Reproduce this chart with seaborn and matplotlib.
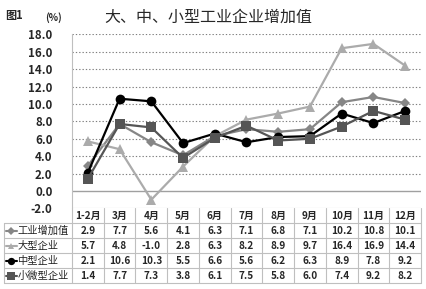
import matplotlib
matplotlib.use("Agg")
import matplotlib.pyplot as plt
import seaborn as sns
import pandas as pd
from matplotlib.lines import Line2D

months = ["1-2月", "3月", "4月", "5月", "6月", "7月", "8月", "9月", "10月", "11月", "12月"]
industry = [2.9, 7.7, 5.6, 4.1, 6.3, 7.1, 6.8, 7.1, 10.2, 10.8, 10.1]
large = [5.7, 4.8, -1.0, 2.8, 6.3, 8.2, 8.9, 9.7, 16.4, 16.9, 14.4]
medium = [2.1, 10.6, 10.3, 5.5, 6.6, 5.6, 6.2, 6.3, 8.9, 7.8, 9.2]
small = [1.4, 7.7, 7.3, 3.8, 6.1, 7.5, 5.8, 6.0, 7.4, 9.2, 8.2]
series_names = ["工业增加值", "大型企业", "中型企业", "小微型企业"]
yticks = [-2.0, 0.0, 2.0, 4.0, 6.0, 8.0, 10.0, 12.0, 14.0, 16.0, 18.0]

sns.set_theme(style="white")
plt.rcParams['font.family'] = ['Noto Sans CJK SC', 'DejaVu Sans']

colors = {"工业增加值": "#868686", "大型企业": "#ABABAB", "中型企业": "#000000", "小微型企业": "#555555"}
markers = {"工业增加值": "D", "大型企业": "^", "中型企业": "o", "小微型企业": "s"}
msizes = {"工业增加值": 5, "大型企业": 6.5, "中型企业": 7, "小微型企业": 7}

rows = []
for name, vals in zip(series_names, [industry, large, medium, small]):
    for i, v in enumerate(vals):
        rows.append({"pos": i, "value": v, "series": name})
df = pd.DataFrame(rows)

W, H = 427, 289
fig = plt.figure(figsize=(W / 100, H / 100), dpi=100)
x0, x1 = 72, 421
ytop, ybot = 34.3, 208.4
ax = fig.add_axes([x0 / W, 1 - ybot / H, (x1 - x0) / W, (ybot - ytop) / H])

for name in series_names:
    sub = df[df.series == name]
    sns.lineplot(data=sub, x="pos", y="value", ax=ax, color=colors[name],
                 marker=markers[name], markersize=msizes[name], markeredgewidth=0,
                 linewidth=1.6, legend=False)

ax.set_xlim(-0.5, 10.5)
ax.set_ylim(-2, 18)
ax.set_yticks(yticks)
ax.set_yticklabels([f"{t:.1f}" for t in yticks], fontsize=8.3, fontweight="bold")
ax.set_xticks([])
ax.set_xlabel("")
ax.set_ylabel("")
ax.tick_params(axis="y", length=0, pad=14)
for t in yticks[2:]:
    ax.axhline(t, color="#7f7f7f", lw=0.8, ls=(0, (1.2, 1.8)), zorder=0)
ax.axhline(0, color="#a0a0a0", lw=1.0, zorder=0)
ax.axhline(-2, color="#c8c8c8", lw=0.8, zorder=0)
for s in ["top", "right", "bottom"]:
    ax.spines[s].set_visible(False)
ax.spines["left"].set_color("#bfbfbf")
ax.spines["left"].set_linewidth(0.8)

# data table
trow0, rh = 208.4, 15.0
tax = fig.add_axes([x0 / W, 1 - (trow0 + 5 * rh) / H, (x1 - x0) / W, 5 * rh / H])
tax.set_xlim(-0.5, 10.5)
tax.set_ylim(5, 0)
tax.axis("off")
gc = "#bfbfbf"
for i in range(12):
    tax.plot([i - 0.5, i - 0.5], [0, 5], color=gc, lw=0.8, clip_on=False)
for r in range(1, 6):
    tax.plot([-0.5, 10.5], [r, r], color=gc, lw=0.8, clip_on=False)
for i, m in enumerate(months):
    tax.text(i, 0.5, m, ha="center", va="center", fontsize=7.2, fontweight="bold")
for r, vals in enumerate([industry, large, medium, small], start=1):
    for i, v in enumerate(vals):
        tax.text(i, r + 0.5, f"{v:.1f}", ha="center", va="center", fontsize=7.2, fontweight="bold")

# row labels (legend keys)
lx0 = 4
for r, name in enumerate(series_names, start=1):
    yc = trow0 + (r + 0.5) * rh
    fig.add_artist(Line2D([lx0 / W, x0 / W], [1 - (trow0 + r * rh) / H] * 2, color=gc, lw=0.8))
    fig.add_artist(Line2D([6 / W, 11.5 / W, 17 / W], [1 - yc / H] * 3, color=colors[name], lw=1.5,
                          marker=markers[name], markevery=[1], markersize=msizes[name] * 0.75,
                          markeredgewidth=0))
    fig.text(17.5 / W, 1 - yc / H, name, ha="left", va="center", fontsize=7.4, color="#222222")
fig.add_artist(Line2D([lx0 / W, x0 / W], [1 - (trow0 + 5 * rh) / H] * 2, color=gc, lw=0.8))
fig.add_artist(Line2D([lx0 / W, lx0 / W], [1 - (trow0 + rh) / H, 1 - (trow0 + 5 * rh) / H], color=gc, lw=0.8))

fig.text(208 / W, 1 - 17 / H, "大、中、小型工业企业增加值", ha="center", va="center", fontsize=11.5)
fig.text(5 / W, 1 - 15 / H, "图1", ha="left", va="center", fontsize=8, fontweight="bold")
fig.text(54 / W, 1 - 18 / H, "(%)", ha="center", va="center", fontsize=7, fontweight="bold")

fig.savefig("out.png", dpi=100)
